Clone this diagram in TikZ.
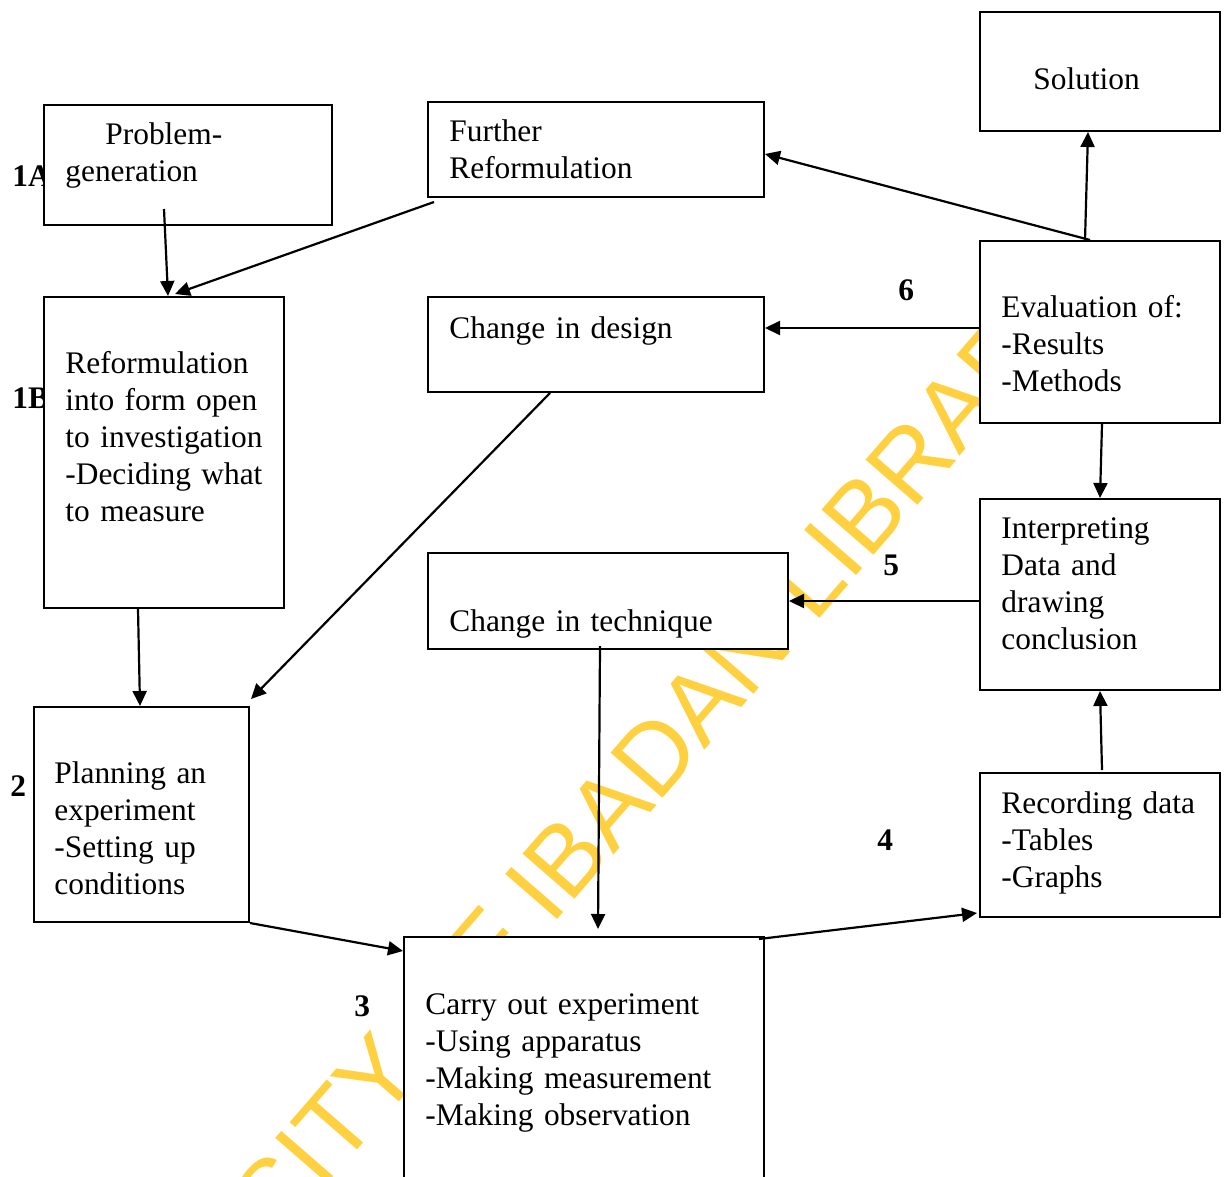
\documentclass[tikz,border=0pt]{standalone}
\usepackage{fontspec}
\setmainfont{Liberation Serif}
\newfontfamily\wmfont{Liberation Sans}
\usetikzlibrary{arrows.meta,fit}
\definecolor{wmyellow}{RGB}{255,208,64}
\tikzset{
  box/.style={draw, fill=white, line width=1pt, inner sep=0pt},
  txt/.style={anchor=base west, inner sep=0pt, text width=200pt, align=left,
              font=\fontsize{15.7}{18.5}\selectfont},
  lbl/.style={anchor=base west, inner sep=0pt, font=\fontsize{15.7}{18.5}\selectfont\bfseries},
  arr/.style={-{Triangle[length=7.5pt,width=7pt]}, line width=1.1pt},
  wm/.style={rotate=49, inner sep=0pt, text=wmyellow, font=\fontsize{50}{60}\wmfont}
}
\begin{document}
\begin{tikzpicture}[x=0.5pt,y=-0.5pt]
\useasboundingbox (0,0) rectangle (1224,1176);

% library stamp behind everything
\node[wm] (stamp) at (536,892) {UNIVERSITY OF IBADAN LIBRARY};

% stage numbers
\node[lbl] (l1a) at (12,187) {1A};
\node[lbl] (l1b) at (12,408) {1B};
\node[lbl] (l2) at (10,796) {2};
\node[lbl] (l3) at (354,1016) {3};
\node[lbl] (l4) at (877,850) {4};
\node[lbl] (l5) at (883,575) {5};
\node[lbl] (l6) at (898,300) {6};

% boxes
\node[box, fit={(44,105) (332,225)}] (prob) {};
\node[box, fit={(428,102) (764,197)}] (furth) {};
\node[box, fit={(980,12) (1220,131)}] (sol) {};
\node[box, fit={(44,297) (284,608)}] (reform) {};
\node[box, fit={(428,297) (764,392)}] (design) {};
\node[box, fit={(980,241) (1220,423)}] (eval) {};
\node[box, fit={(980,499) (1220,690)}] (interp) {};
\node[box, fit={(428,553) (788,649)}] (tech) {};
\node[box, fit={(34,707) (249,922)}] (plan) {};
\node[box, fit={(404,937) (764,1200)}] (carry) {};
\node[box, fit={(980,773) (1220,917)}] (rec) {};

% box texts
\node[txt] (tprob) at (65,145) {\hspace*{20pt}Problem-\\generation};
\node[txt] (tfurth) at (449,142) {Further\\Reformulation};
\node[txt] (tsol) at (1033,90) {Solution};
\node[txt] (treform) at (65,373) {Reformulation\\into form open\\to investigation\\-Deciding what\\to measure};
\node[txt] (tdesign) at (449,338) {Change in design};
\node[txt] (teval) at (1001,317) {Evaluation of:\\-Results\\-Methods};
\node[txt] (tinterp) at (1001,538) {Interpreting\\Data and\\drawing\\conclusion};
\node[txt] (ttech) at (449,631) {Change in technique};
\node[txt] (tplan) at (54,783) {Planning an\\experiment\\-Setting up\\conditions};
\node[txt] (tcarry) at (425,1014) {Carry out experiment\\-Using apparatus\\-Making measurement\\-Making observation};
\node[txt] (trec) at (1001,813) {Recording data\\-Tables\\-Graphs};

% connectors
\draw[arr] ([shift={(-24,-17)}]prob.south) -- ([shift={(4,0)}]reform.north);
\draw[arr] ([shift={(7,4)}]furth.south west) -- ([shift={(11,-2)}]reform.north);
\draw[arr] ([shift={(-10,0)}]eval.north) -- ([shift={(0,4.5)}]furth.east);
\draw[arr] ([shift={(-15,0)}]eval.north) -- ([shift={(-12,0)}]sol.south);
\draw[arr] ([shift={(0,-4)}]eval.west) -- ([shift={(0,-16.5)}]design.east);
\draw[arr] ([shift={(2,0)}]eval.south) -- (interp.north);
\draw[arr] ([shift={(0,6.5)}]interp.west) -- (tech.east);
\draw[arr] ([shift={(2,-2)}]rec.north) -- (interp.south);
\draw[arr] ([shift={(-46,0)}]design.south) -- ([shift={(1,-7)}]plan.north east);
\draw[arr] ([shift={(-26,0)}]reform.south) -- ([shift={(-1.5,0)}]plan.north);
\draw[arr] ([shift={(-8,-4)}]tech.south) -- ([shift={(14,-7)}]carry.north);
\draw[arr] (plan.south east) -- ([shift={(0,15)}]carry.north west);
\draw[arr] ([shift={(-6,3)}]carry.north east) -- ([shift={(-2,-5)}]rec.south west);
\end{tikzpicture}
\end{document}
